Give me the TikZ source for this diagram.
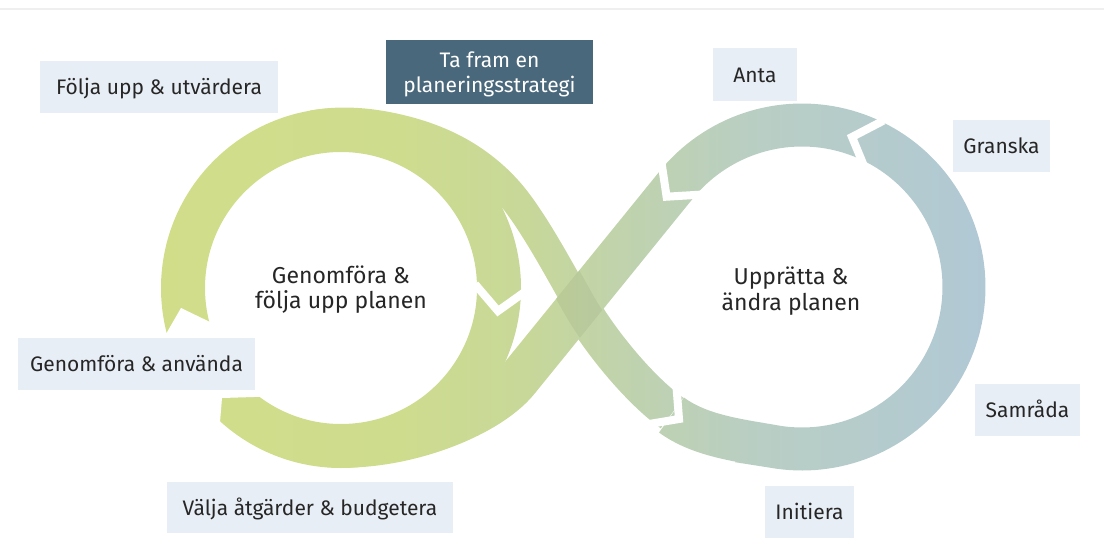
\documentclass[tikz,border=0pt]{standalone}
\usepackage{fontspec}
\setmainfont{Fira Sans}
\usetikzlibrary{calc}
\definecolor{boxbg}{HTML}{E8EEF5}
\definecolor{darkbox}{HTML}{4A687C}
\definecolor{txt}{HTML}{262626}
\definecolor{rulecol}{HTML}{EFEFEF}
\pgfdeclarehorizontalshading{infshade}{100bp}{rgb(0bp)=(0.820,0.867,0.537); rgb(25bp)=(0.820,0.867,0.537); rgb(39.7bp)=(0.808,0.863,0.557); rgb(46.8bp)=(0.784,0.847,0.596); rgb(52.6bp)=(0.753,0.827,0.675); rgb(60.9bp)=(0.725,0.808,0.769); rgb(75bp)=(0.690,0.784,0.839); rgb(100bp)=(0.690,0.784,0.839)}
\newcommand\chev[3]{\draw[gapline, shift={(#1,#2)}, rotate=-#3] (-23.8,26) -- (0,0) -- (-23.8,-26);}
\begin{document}
\begin{tikzpicture}[x=1pt,y=-1pt,
  band/.style={draw=black, line width=44pt, line cap=butt},
  gapline/.style={draw=white, line width=8pt, line cap=butt, line join=miter},
  boxs/.style={fill=boxbg, draw=none, inner sep=0pt},
  labtxt/.style={text=txt, font=\fontsize{21}{25}\selectfont, inner sep=0pt, anchor=base},
  ctrtxt/.style={text=txt, font=\fontsize{23}{27}\selectfont, inner sep=0pt, anchor=base}]
\useasboundingbox (0,0) rectangle (1104,549);
\fill[white] (0,0) rectangle (1104,549);
% ---- band mask (black = band) ----
\draw[band] (341,288) circle[radius=158];
\draw[band, line width=43pt] (671.5,415) .. controls (700,436) and (739.4,440.4) .. (773.9,446.5)
  -- plot[domain=260:501, samples=120, variable=\t] ({802+162*cos(\t)},{287-162*sin(\t)})
  -- (518,380) .. controls (486.5,418.9) and (396.7,451.5) .. (327,445.4);
\draw[band, line width=30pt] plot[domain=100:30, samples=60, variable=\t]
  ({341+(165+5.6*ln(1+exp((70-\t)/8)))*cos(\t)},{288-(165+5.6*ln(1+exp((70-\t)/8)))*sin(\t)})
  .. controls (530,216.2) and (555,262) .. (578,303) .. controls (600,342) and (640,390) .. (672,413);
\draw[band, line width=38pt] (578,303) .. controls (600,342) and (640,390) .. (672,413);
% gaps
\chev{852}{137}{200}
\chev{666.6}{196.7}{129}
\chev{679}{419}{38}
\chev{498}{311}{97}
\fill[white] (100,334) -- (166,334) -- (181,308) -- (210,322) -- (285,322) -- (285,396) -- (222,398) -- (219,434) -- (100,434) -- cycle;
% ---- colour via screen blend ----
\begin{scope}[blend mode=screen]
\shade[shading=infshade] (150,90) rectangle (1000,490);
\end{scope}
\begin{scope}
\clip (659.3,171.5) -- (692.7,198.5) -- (534.7,393.5) -- (501.3,366.5) -- cycle;
\draw[line width=34pt, black, opacity=0.05] (508.2,191.5) .. controls (530,216.2) and (555,262) .. (578,303) .. controls (600,342) and (640,390) .. (672,413);
\end{scope}
% faint top rule
\coordinate (rl) at (0,9);
\coordinate (rr) at (1104,9);
\draw[rulecol, line width=2pt] (rl) -- (rr);
% ---- labels ----
\node[boxs, minimum width=238pt, minimum height=52pt] (b1) at (159,87) {};
\node[labtxt] (t1) at ($(b1.center)+(0,7.5)$) {Följa upp \& utvärdera};
\node[boxs, fill=darkbox, minimum width=207pt, minimum height=64pt] (b2) at (489.5,72) {};
\node[labtxt, text=white] (t2a) at (489.5,67) {Ta fram en};
\node[labtxt, text=white] (t2b) at (489.5,92) {planeringsstrategi};
\node[boxs, minimum width=84pt, minimum height=53pt] (b3) at (755,74.5) {};
\node[labtxt] (t3) at ($(b3.center)+(0,7.5)$) {Anta};
\node[boxs, minimum width=97pt, minimum height=52pt] (b4) at (1001.5,146) {};
\node[labtxt] (t4) at ($(b4.center)+(0,7.5)$) {Granska};
\node[boxs, minimum width=237pt, minimum height=52pt] (b5) at (136.5,364) {};
\node[labtxt] (t5) at ($(b5.center)+(0,7.5)$) {Genomföra \& använda};
\node[boxs, minimum width=105pt, minimum height=52pt] (b6) at (1027.5,410) {};
\node[labtxt] (t6) at ($(b6.center)+(0,7.5)$) {Samråda};
\node[boxs, minimum width=286pt, minimum height=51pt] (b7) at (310,507.5) {};
\node[labtxt] (t7) at ($(b7.center)+(0,7.5)$) {Välja åtgärder \& budgetera};
\node[boxs, minimum width=89pt, minimum height=52pt] (b8) at (809.5,512) {};
\node[labtxt] (t8) at ($(b8.center)+(0,7.5)$) {Initiera};
% centre texts
\node[ctrtxt] (c1a) at (341,283) {Genomföra \&};
\node[ctrtxt] (c1b) at (341,308) {följa upp planen};
\node[ctrtxt] (c2a) at (791,284) {Upprätta \&};
\node[ctrtxt] (c2b) at (791,310) {ändra planen};
\end{tikzpicture}
\end{document}
